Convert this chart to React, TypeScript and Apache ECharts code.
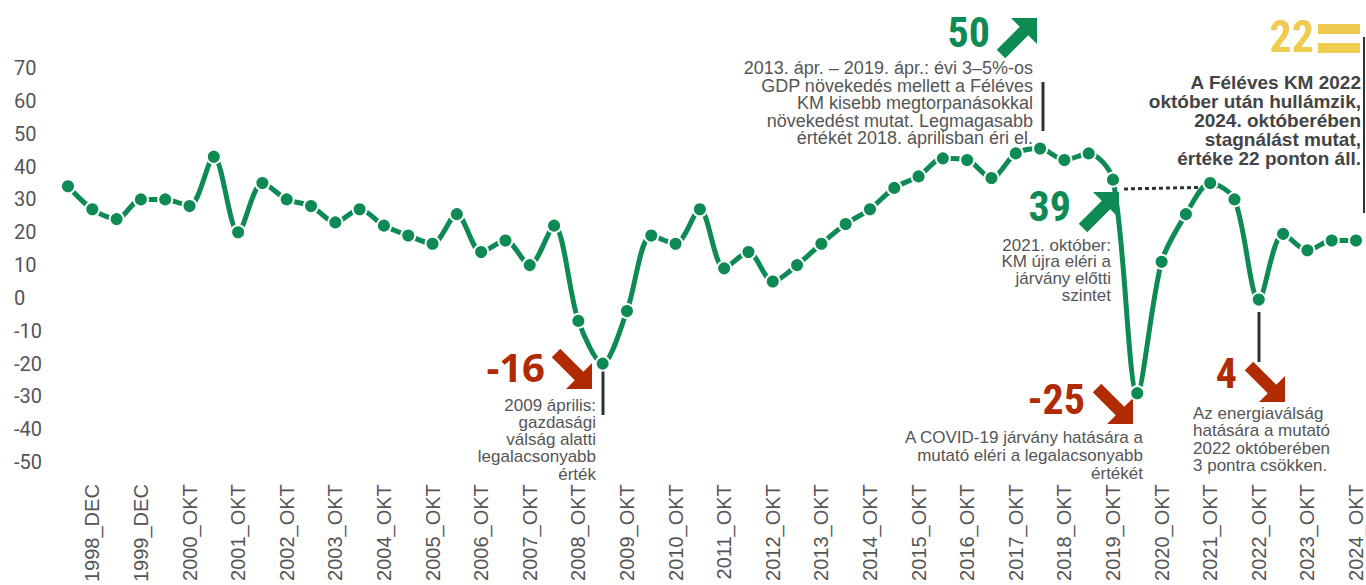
import React, { useEffect, useRef } from "react";
import * as echarts from "echarts";

const categories = [
  "1998_JÚN", "1998_DEC", "1999_JÚN", "1999_DEC", "2000_ÁPR", "2000_OKT",
  "2001_ÁPR", "2001_OKT", "2002_ÁPR", "2002_OKT", "2003_ÁPR", "2003_OKT",
  "2004_ÁPR", "2004_OKT", "2005_ÁPR", "2005_OKT", "2006_ÁPR", "2006_OKT",
  "2007_ÁPR", "2007_OKT", "2008_ÁPR", "2008_OKT", "2009_ÁPR", "2009_OKT",
  "2010_ÁPR", "2010_OKT", "2011_ÁPR", "2011_OKT", "2012_ÁPR", "2012_OKT",
  "2013_ÁPR", "2013_OKT", "2014_ÁPR", "2014_OKT", "2015_ÁPR", "2015_OKT",
  "2016_ÁPR", "2016_OKT", "2017_ÁPR", "2017_OKT", "2018_ÁPR", "2018_OKT",
  "2019_ÁPR", "2019_OKT", "2020_ÁPR", "2020_OKT", "2021_ÁPR", "2021_OKT",
  "2022_ÁPR", "2022_OKT", "2023_ÁPR", "2023_OKT", "2024_ÁPR", "2024_OKT",
];

const values = [
  34, 27, 24, 30, 30, 28,
  43, 20, 35, 30, 28, 23,
  27, 22, 19, 16.5, 25.5, 14,
  17.5, 10, 22, -7, -20, -4,
  19, 16.5, 27, 9, 14, 5,
  10, 16.5, 22.5, 27, 33.5, 37,
  42.5, 42, 36.5, 44, 45.5, 42,
  44, 36, -29, 11, 25.5, 35,
  30, -0.5, 19.5, 14.5, 17.5, 17.5,
];

const yMin = -50;
const yMax = 70;
const yStep = 10;

const noteGrowth = [
  "2013. ápr. – 2019. ápr.: évi 3–5%-os",
  "GDP növekedés mellett a Féléves",
  "KM kisebb megtorpanásokkal",
  "növekedést mutat. Legmagasabb",
  "értékét 2018. áprilisban éri el.",
];
const noteRecovery = ["2021. október:", "KM újra eléri a", "járvány előtti", "szintet"];
const noteNow = [
  "A Féléves KM 2022",
  "október után hullámzik,",
  "2024. októberében",
  "stagnálást mutat,",
  "értéke 22 ponton áll.",
];
const noteCrisis = ["2009 április:", "gazdasági", "válság alatti", "legalacsonyabb", "érték"];
const noteCovid = ["A COVID-19 járvány hatására a", "mutató eléri a legalacsonyabb", "értékét"];
const noteEnergy = ["Az energiaválság", "hatására a mutató", "2022 októberében", "3 pontra csökken."];

const GREEN = "#0e8a55";
const RED = "#b02a02";
const YELLOW = "#efcb50";
const GRAY = "#555555";
const DARK = "#2b352f";
const NARROW = "'Liberation Sans Narrow', 'Roboto Condensed', 'DejaVu Sans Condensed', sans-serif";
const ARIAL = "'Liberation Sans', Arial, sans-serif";

function arrow(x: number, y: number, dir: "up" | "down", color: string, s = 1) {
  const base = [
    [14, 0], [40, 0], [40, 26], [31.25, 17.25], [8.25, 40.25], [-0.25, 31.75], [22.75, 8.75],
  ];
  const pts = base.map(([px, py]) => [px * s, (dir === "up" ? py : 40 - py) * s]);
  return { type: "polygon", x, y, shape: { points: pts }, style: { fill: color } };
}

function txt(x: number, y: number, text: string, o: any) {
  return {
    type: "text",
    x,
    y,
    style: {
      text,
      fill: o.fill || GRAY,
      fontSize: o.size || 18,
      fontFamily: o.family || ARIAL,
      fontWeight: o.weight || "normal",
      align: o.align || "right",
      verticalAlign: "middle",
    },
  };
}

function block(x: number, y0: number, lines: string[], step: number, o: any) {
  return lines.map((l, i) => txt(x, y0 + i * step, l, o));
}

function vline(x: number, y1: number, y2: number, w = 3) {
  return { type: "line", shape: { x1: x, y1, x2: x, y2 }, style: { stroke: DARK, lineWidth: w } };
}

export default function App() {
  const ref = useRef<HTMLDivElement>(null);
  useEffect(() => {
    const chart = echarts.init(ref.current!, null, { renderer: "svg" });
    chart.setOption({
      animation: false,
      grid: { left: 68, right: 10, top: 68, bottom: 122 },
      xAxis: {
        type: "category",
        data: categories,
        boundaryGap: false,
        axisLine: { show: false },
        axisTick: { show: false },
        axisLabel: {
          interval: (i: number) => i % 2 === 1,
          rotate: 90,
          margin: 22,
          color: GRAY,
          fontSize: 20,
          fontFamily: ARIAL,
        },
      },
      yAxis: {
        type: "value",
        min: yMin,
        max: yMax,
        interval: yStep,
        splitLine: { show: false },
        axisLine: { show: false },
        axisTick: { show: false },
        axisLabel: {
          align: "left",
          margin: 54,
          color: GRAY,
          fontSize: 20,
          fontFamily: "Roboto, " + ARIAL,
        },
      },
      series: [
        {
          type: "line",
          data: values,
          smooth: 0.3,
          symbol: "circle",
          symbolSize: 14,
          lineStyle: { color: GREEN, width: 5 },
          itemStyle: { color: GREEN, borderColor: "#ffffff", borderWidth: 2 },
          z: 3,
        },
      ],
      graphic: [
        // 2018 peak
        txt(990, 32, "50", { fill: GREEN, size: 42, weight: "bold", family: NARROW }),
        arrow(997, 18, "up", GREEN),
        ...block(1033, 68, noteGrowth, 17.5, { size: 18 }),
        vline(1043, 82, 131),
        // 2021
        txt(1071, 206, "39", { fill: GREEN, size: 42, weight: "bold", family: NARROW }),
        arrow(1079, 192, "up", GREEN),
        ...block(1111, 245, noteRecovery, 16.8, { size: 17 }),
        {
          type: "line",
          shape: { x1: 1124, y1: 189, x2: 1217, y2: 187 },
          style: { stroke: DARK, lineWidth: 3, lineDash: [4, 3] },
        },
        // 2024
        txt(1314, 37, "22", { fill: YELLOW, size: 44, weight: "bold", family: NARROW }),
        { type: "rect", shape: { x: 1318, y: 24, width: 42, height: 10 }, style: { fill: YELLOW } },
        { type: "rect", shape: { x: 1318, y: 43, width: 42, height: 10 }, style: { fill: YELLOW } },
        ...block(1361, 82, noteNow, 19, { size: 19, weight: "bold", fill: "#444444" }),
        vline(1364, 37, 213, 2),
        // 2009
        txt(545, 366, "-16", { fill: RED, size: 40, weight: "bold", family: "'Open Sans', sans-serif" }),
        arrow(552, 349, "down", RED),
        vline(603, 368, 415),
        ...block(596, 405, noteCrisis, 17.3, { size: 17 }),
        // covid
        txt(1085, 399, "-25", { fill: RED, size: 42, weight: "bold", family: NARROW }),
        arrow(1093, 384, "down", RED),
        ...block(1143, 437, noteCovid, 18, { size: 17 }),
        // 2022
        vline(1259, 312, 362),
        txt(1237, 373, "4", { fill: RED, size: 42, weight: "bold", family: NARROW }),
        arrow(1245, 362, "down", RED),
        ...block(1193, 413, noteEnergy, 17.5, { size: 17, align: "left" }),
      ],
    });
    return () => chart.dispose();
  }, []);
  return <div ref={ref} style={{ position: "absolute", left: 0, top: 0, width: 1366, height: 585 }} />;
}
